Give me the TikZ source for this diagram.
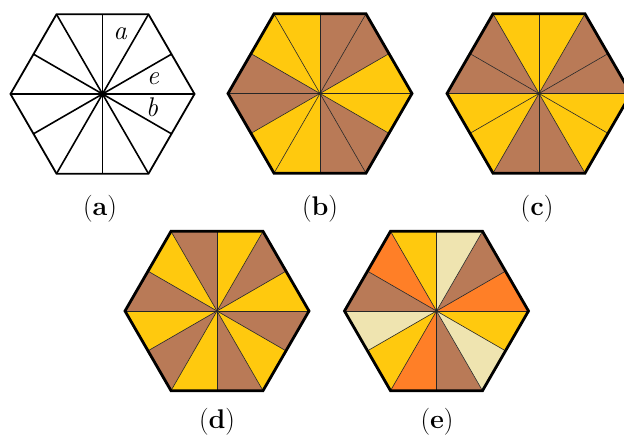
\documentclass[tikz,border=0pt]{standalone}
\usepackage{fontspec}
\usetikzlibrary{calc}
\definecolor{Y}{RGB}{255,201,14}
\definecolor{B}{RGB}{185,122,87}
\definecolor{O}{RGB}{255,127,39}
\definecolor{C}{RGB}{239,228,176}
\tikzset{
  border/.style={line width=2.8pt, line join=miter},
  thinspoke/.style={line width=0.6pt, draw=black!85},
  plainspoke/.style={line width=1.6pt, draw=black},
  plainborder/.style={line width=1.8pt, line join=miter},
  caption/.style={font=\fontsize{27}{32}\selectfont, inner sep=0pt},
  letter/.style={font=\fontsize{27}{32}\selectfont\itshape, inner sep=0pt}
}
\newcommand\hexR{92}
\newcommand\hexr{79.67}
\newcommand\hexsectors[2]{%
  \foreach \c [count=\i from 0] in {#2} {
    \ifodd\i \def\ra{\hexr}\def\rb{\hexR}\else \def\ra{\hexR}\def\rb{\hexr}\fi
    \fill[\c] (#1) -- ($(#1)+(30*\i:\ra)$) -- ($(#1)+(30*\i+30:\rb)$) -- cycle;
  }}
\newcommand\hexspokes[2]{%
  \foreach \i in {0,...,11} {
    \ifodd\i \def\ra{\hexr}\else \def\ra{\hexR}\fi
    \draw[#2] (#1) -- ($(#1)+(30*\i:\ra)$);
  }}
\newcommand\hexborder[2]{%
  \draw[#2] ($(#1)+(0:\hexR)$) -- ($(#1)+(60:\hexR)$) -- ($(#1)+(120:\hexR)$)
    -- ($(#1)+(180:\hexR)$) -- ($(#1)+(240:\hexR)$) -- ($(#1)+(300:\hexR)$) -- cycle;}
\begin{document}
\begin{tikzpicture}[x=1pt,y=1pt]
\useasboundingbox (0,0) rectangle (624,437);
\coordinate (ca) at (102.5,343);
\coordinate (cb) at (320,343.5);
\coordinate (cc) at (539,343.5);
\coordinate (cd) at (217,126);
\coordinate (ce) at (436.5,126);
% (a)
\hexspokes{ca}{plainspoke}
\hexborder{ca}{plainborder}
\fill (ca) circle (3.2);
\node[letter] (la) at (120,403) {a};
\node[letter] (le) at (153,358) {e};
\node[letter] (lb) at (152,330) {b};
% (b)
\hexsectors{cb}{Y,B,B,Y,Y,B,B,Y,Y,B,B,Y}
\hexspokes{cb}{thinspoke}
\hexborder{cb}{border}
% (c)
\hexsectors{cc}{B,B,Y,Y,B,B,Y,Y,B,B,Y,Y}
\hexspokes{cc}{thinspoke}
\hexborder{cc}{border}
% (d)
\hexsectors{cd}{Y,B,Y,B,Y,B,Y,B,Y,B,Y,B}
\hexspokes{cd}{thinspoke}
\hexborder{cd}{border}
% (e)
\hexsectors{ce}{O,B,C,Y,O,B,C,Y,O,B,C,Y}
\hexspokes{ce}{thinspoke}
\hexborder{ce}{border}
% captions
\node[caption] (capa) at (100,228) {(\textbf{a})};
\node[caption] (capb) at (320,228) {(\textbf{b})};
\node[caption] (capc) at (537,228) {(\textbf{c})};
\node[caption] (capd) at (217,15) {(\textbf{d})};
\node[caption] (cape) at (437,15) {(\textbf{e})};
\end{tikzpicture}
\end{document}
